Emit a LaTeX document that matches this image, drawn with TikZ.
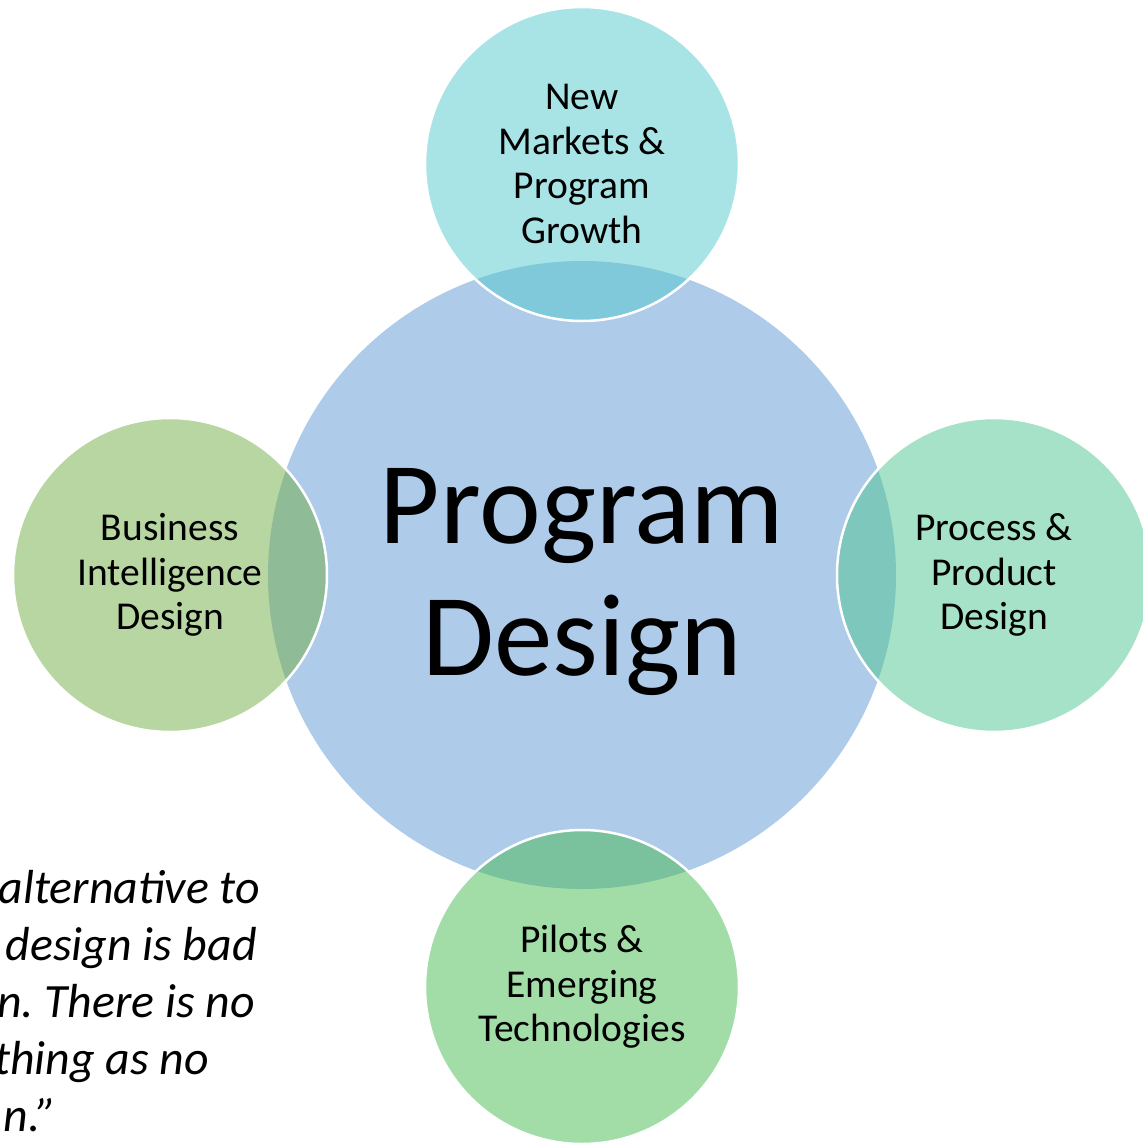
\documentclass[tikz,border=0pt]{standalone}
\usepackage{fontspec}
\setmainfont{Carlito}
\frenchspacing
\definecolor{bigc}{RGB}{174,203,234}
\definecolor{topc}{RGB}{81,201,205}
\definecolor{leftc}{RGB}{113,173,69}
\definecolor{rightc}{RGB}{77,197,145}
\definecolor{botc}{RGB}{69,187,81}
\tikzset{
  bigcircle/.style={circle, inner sep=0pt, minimum size=628pt, fill=bigc},
  bigtext/.style={inner sep=0pt, align=center, font=\fontsize{117}{132}\selectfont},
  smallcircle/.style={circle, inner sep=0pt, minimum size=314pt, draw=white, line width=2.5pt,
    fill opacity=0.5, text opacity=1, align=center, font=\fontsize{39.5}{44.5}\selectfont},
  quote/.style={anchor=base east, inner sep=0pt, font=\fontsize{47.8}{56.7}\selectfont\itshape}
}
\begin{document}
\begin{tikzpicture}[x=1pt,y=-1pt]
\useasboundingbox (0,0) rectangle (1143,1144);
\node[bigcircle] (pd) at (582,575) {};
\node[bigtext] (pdt) at (582,582) {Program\\Design};
\node[smallcircle, fill=topc] (nm) at (582,164) {New\\Markets \&\\Program\\Growth};
\node[smallcircle, fill=leftc] (bi) at (170,575) {Business\\Intelligence\\Design};
\node[smallcircle, fill=rightc] (pp) at (994,575) {Process \&\\Product\\Design};
\node[smallcircle, fill=botc] (pe) at (582,987) {Pilots \&\\Emerging\\Technologies};
\node[quote] (q1) at (260,903) {alternative to};
\node[quote] (q2) at (257,960) {design is bad};
\node[quote] (q3) at (255,1017) {n. There is no};
\node[quote] (q4) at (209,1074) {thing as no};
\node[quote] (q5) at (57,1131) {n.”};
\end{tikzpicture}
\end{document}
